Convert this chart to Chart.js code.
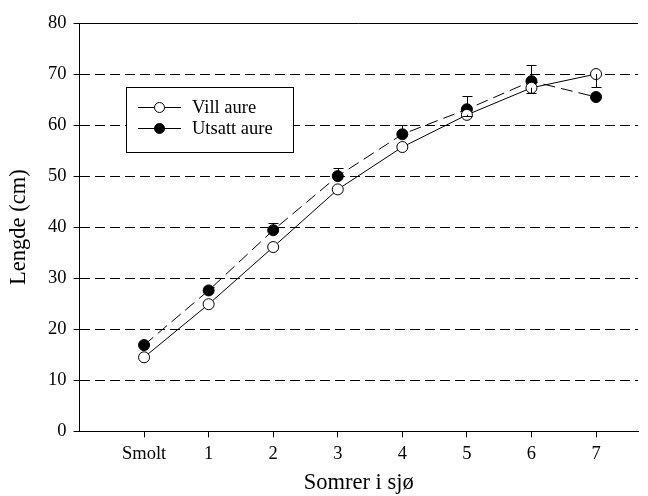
<!DOCTYPE html>
<html>
<head>
<meta charset="utf-8">
<script src="https://cdn.jsdelivr.net/npm/chart.js@4.4.1/dist/chart.umd.min.js"></script>
<style>
  html, body { margin: 0; padding: 0; background: #fff; }
  #wrap { width: 648px; height: 496px; }
</style>
</head>
<body>
<div id="wrap"><canvas id="lengthChart" width="648" height="496"></canvas></div>
<script>
// data
const categories = ['Smolt', '1', '2', '3', '4', '5', '6', '7'];
const villAure = [14.5, 24.9, 36.1, 47.4, 55.7, 62.0, 67.3, 70.0];
const utsattAure = [16.9, 27.6, 39.4, 50.0, 58.2, 63.1, 68.6, 65.5];
// one-sided error bars: vill drawn downward, utsatt upward
const villErr = [0, 0, 0, 0, 0, 0.3, 1.0, 2.6];
const utsattErr = [0, 0.7, 1.5, 1.6, 1.9, 2.6, 3.2, 0];
const yTicks = [0, 10, 20, 30, 40, 50, 60, 70, 80];

const serif = "'Liberation Serif', 'Times New Roman', serif";

function toPoints(vals) {
  return vals.map((v, i) => ({ x: i, y: v }));
}

// error bars, top frame line and the boxed legend
const extras = {
  id: 'extras',
  afterDatasetsDraw(chart) {
    const ctx = chart.ctx;
    const xs = chart.scales.x, ys = chart.scales.y;
    const area = chart.chartArea;
    ctx.save();
    ctx.strokeStyle = '#000';
    ctx.lineWidth = 1;
    ctx.setLineDash([]);

    function errBar(vals, errs, dir) {
      vals.forEach((v, i) => {
        if (!errs[i]) return;
        const px = Math.round(xs.getPixelForValue(i)) + 0.5;
        const y0 = ys.getPixelForValue(v);
        const y1 = Math.round(ys.getPixelForValue(v + dir * errs[i])) + 0.5;
        ctx.beginPath();
        ctx.moveTo(px, y0);
        ctx.lineTo(px, y1);
        ctx.moveTo(px - 5, y1);
        ctx.lineTo(px + 5, y1);
        ctx.stroke();
      });
    }
    errBar(villAure, villErr, -1);
    errBar(utsattAure, utsattErr, 1);

    // top frame
    ctx.beginPath();
    ctx.moveTo(area.left, Math.round(area.top) + 0.5);
    ctx.lineTo(area.right, Math.round(area.top) + 0.5);
    ctx.stroke();

    // legend box
    const bx = 126.5, by = 87.5, bw = 167, bh = 65;
    ctx.fillStyle = '#fff';
    ctx.fillRect(bx, by, bw, bh);
    ctx.strokeRect(bx, by, bw, bh);
    ctx.font = '18.5px ' + serif;
    ctx.textBaseline = 'middle';
    const rows = [
      { label: 'Vill aure', fill: '#fff', y: 107 },
      { label: 'Utsatt aure', fill: '#000', y: 128 }
    ];
    rows.forEach(r => {
      ctx.beginPath();
      ctx.moveTo(138, r.y + 0.5);
      ctx.lineTo(181, r.y + 0.5);
      ctx.stroke();
      ctx.beginPath();
      ctx.arc(159.5, r.y + 0.5, 5, 0, Math.PI * 2);
      ctx.fillStyle = r.fill;
      ctx.fill();
      ctx.stroke();
      ctx.fillStyle = '#000';
      ctx.fillText(r.label, 192, r.y + 1);
    });
    ctx.restore();
  }
};

const ctx = document.getElementById('lengthChart').getContext('2d');
new Chart(ctx, {
  type: 'line',
  data: {
    datasets: [{
      label: 'Vill aure',
      data: toPoints(villAure),
      borderColor: '#000',
      borderWidth: 1,
      pointRadius: 5.5,
      pointBackgroundColor: '#fff',
      pointBorderColor: '#000',
      pointBorderWidth: 1,
      order: 1
    }, {
      label: 'Utsatt aure',
      data: toPoints(utsattAure),
      borderColor: '#000',
      borderWidth: 1,
      borderDash: [12, 6],
      pointRadius: 5.5,
      pointBackgroundColor: '#000',
      pointBorderColor: '#000',
      pointBorderWidth: 1,
      order: 2
    }]
  },
  options: {
    responsive: false,
    animation: false,
    layout: { padding: { top: 23, right: 10, bottom: 2, left: 6 } },
    plugins: {
      legend: { display: false },
      tooltip: { enabled: false }
    },
    scales: {
      x: {
        type: 'linear',
        min: -1,
        max: 7.65,
        afterBuildTicks: axis => {
          axis.ticks = categories.map((c, i) => ({ value: i }));
        },
        ticks: {
          color: '#000',
          font: { family: serif, size: 18.5 },
          padding: 6,
          maxRotation: 0,
          callback: v => categories[v]
        },
        grid: {
          drawOnChartArea: false,
          drawTicks: true,
          tickLength: 6,
          tickColor: '#000'
        },
        border: { color: '#000', width: 1 },
        title: {
          display: true,
          text: 'Somrer i sjø',
          color: '#000',
          font: { family: serif, size: 22.5, lineHeight: 1.0 },
          padding: { top: 0, bottom: 0 }
        }
      },
      y: {
        min: 0,
        max: 80,
        afterBuildTicks: axis => {
          axis.ticks = yTicks.map(v => ({ value: v }));
        },
        ticks: {
          color: '#000',
          font: { family: serif, size: 18.5 },
          padding: 7
        },
        grid: {
          color: c => (c.tick && (c.tick.value === 0 || c.tick.value === 80)) ? 'rgba(0,0,0,0)' : '#000',
          tickLength: 6,
          tickColor: '#000',
          tickBorderDash: [],
          lineWidth: 1
        },
        border: { color: '#000', width: 1, dash: [10, 5] },
        title: {
          display: true,
          text: 'Lengde (cm)',
          color: '#000',
          font: { family: serif, size: 22.5 },
          padding: { top: 0, bottom: 8 }
        }
      }
    }
  },
  plugins: [extras]
});
</script>
</body>
</html>
